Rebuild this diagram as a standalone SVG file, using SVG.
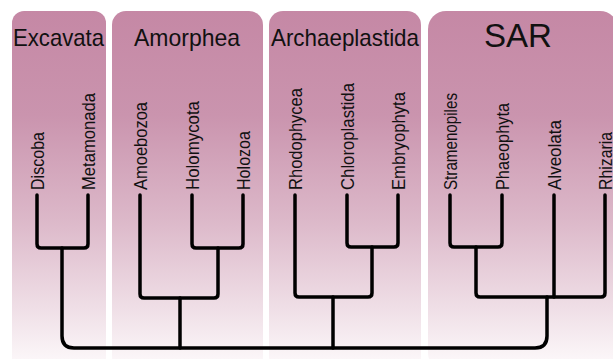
<svg xmlns="http://www.w3.org/2000/svg" width="613" height="359" viewBox="0 0 613 359">
<defs>
<linearGradient id="pg" gradientUnits="userSpaceOnUse" x1="0" y1="11" x2="0" y2="359">
<stop offset="0" stop-color="#c588a5"/>
<stop offset="0.3" stop-color="#ca94ae"/>
<stop offset="0.6" stop-color="#dcb8c9"/>
<stop offset="0.85" stop-color="#efdee6"/>
<stop offset="1" stop-color="#fbf6f8"/>
</linearGradient>
<style>
.panel{fill:url(#pg);}
.title{font-family:"Liberation Sans",Arial,Helvetica,sans-serif;font-size:24px;fill:#111;}
.big{font-size:33px;}
.lab{font-family:"Liberation Sans",Arial,Helvetica,sans-serif;font-size:18px;fill:#111;}
.tree{fill:none;stroke:#000;stroke-width:3.5;stroke-linejoin:round;stroke-linecap:round;}
</style>
</defs>
<rect width="613" height="359" fill="#fff"/>
<g id="excavata">
<rect class="panel" x="12" y="11" width="94" height="360" rx="12"/>
<text class="title" x="13" y="46" textLength="91" lengthAdjust="spacingAndGlyphs">Excavata</text>
<text class="lab" transform="translate(43.5,190) rotate(-90)" textLength="58" lengthAdjust="spacingAndGlyphs">Discoba</text>
<text class="lab" transform="translate(94.5,190) rotate(-90)" textLength="97" lengthAdjust="spacingAndGlyphs">Metamonada</text>
</g>
<g id="amorphea">
<rect class="panel" x="112" y="11" width="151" height="360" rx="14"/>
<text class="title" x="134" y="46" textLength="106" lengthAdjust="spacingAndGlyphs">Amorphea</text>
<text class="lab" transform="translate(146.5,190) rotate(-90)" textLength="88" lengthAdjust="spacingAndGlyphs">Amoebozoa</text>
<text class="lab" transform="translate(198.5,190) rotate(-90)" textLength="89" lengthAdjust="spacingAndGlyphs">Holomycota</text>
<text class="lab" transform="translate(249.5,190) rotate(-90)" textLength="59" lengthAdjust="spacingAndGlyphs">Holozoa</text>
</g>
<g id="archaeplastida">
<rect class="panel" x="269" y="11" width="152" height="360" rx="14"/>
<text class="title" x="271" y="46" textLength="148" lengthAdjust="spacingAndGlyphs">Archaeplastida</text>
<text class="lab" transform="translate(301.5,190) rotate(-90)" textLength="102" lengthAdjust="spacingAndGlyphs">Rhodophycea</text>
<text class="lab" transform="translate(353.5,190) rotate(-90)" textLength="107" lengthAdjust="spacingAndGlyphs">Chloroplastida</text>
<text class="lab" transform="translate(404.5,190) rotate(-90)" textLength="98" lengthAdjust="spacingAndGlyphs">Embryophyta</text>
</g>
<g id="sar">
<rect class="panel" x="428" y="11" width="190" height="360" rx="18"/>
<text class="title big" x="484" y="47" textLength="68" lengthAdjust="spacingAndGlyphs">SAR</text>
<text class="lab" transform="translate(456.5,190) rotate(-90)" textLength="97" lengthAdjust="spacingAndGlyphs">Stramenopiles</text>
<text class="lab" transform="translate(508.5,190) rotate(-90)" textLength="87" lengthAdjust="spacingAndGlyphs">Phaeophyta</text>
<text class="lab" transform="translate(560.5,190) rotate(-90)" textLength="70" lengthAdjust="spacingAndGlyphs">Alveolata</text>
<text class="lab" transform="translate(611.5,190) rotate(-90)" textLength="58" lengthAdjust="spacingAndGlyphs">Rhizaria</text>
</g>
<g id="connectors" class="tree">
<path d="M37,195 V244 Q37,248 41,248 H84 Q88,248 88,244 V195"/>
<path d="M62,248 V336 Q62,348 74,348 H535 Q547,348 547,336 V297"/>
<path d="M192,195 V244 Q192,248 196,248 H239 Q243,248 243,244 V195"/>
<path d="M218,248 V294 Q218,298 214,298 H144 Q140,298 140,294 V195"/>
<path d="M180,298 V348"/>
<path d="M347,195 V243 Q347,247 351,247 H394 Q398,247 398,243 V195"/>
<path d="M372,247 V293 Q372,297 368,297 H299 Q295,297 295,293 V195"/>
<path d="M333,297 V348"/>
<path d="M450,195 V243 Q450,247 454,247 H498 Q502,247 502,243 V195"/>
<path d="M476,247 V293 Q476,297 480,297 H601 Q605,297 605,293 V195"/>
<path d="M554,195 V297"/>
</g>
</svg>
